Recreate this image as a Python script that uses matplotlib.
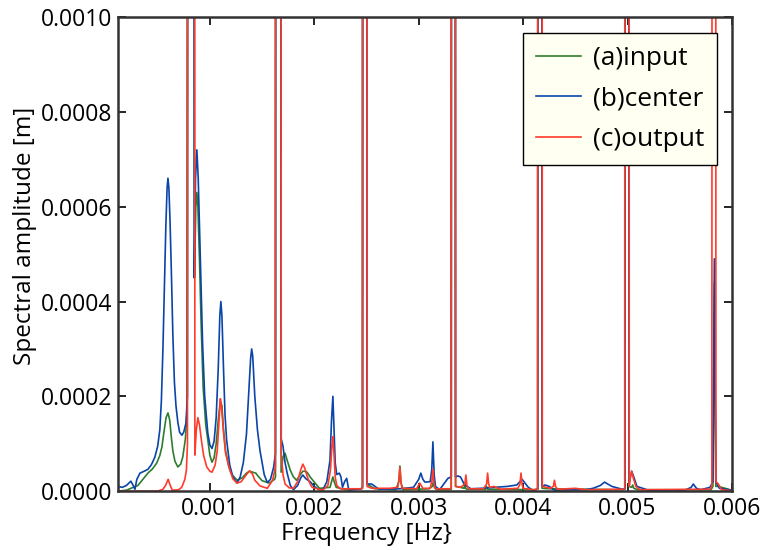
import numpy as np
import matplotlib
matplotlib.use('Agg')
from matplotlib import pyplot as plt

plt.rcParams['font.family'] = ['Open Sans', 'DejaVu Sans']

# frequency in mHz, amplitude in mm (converted to Hz / m when plotted)
# spikes that leave the plot are given a top value of 4.0 mm
f_input = [0.12, 0.20, 0.31, 0.406, 0.45, 0.49, 0.52, 0.54, 0.56, 0.58, 0.598,
           0.615, 0.63, 0.645, 0.665, 0.693, 0.72, 0.74, 0.765, 0.78,
           0.795, 0.845, 0.852, 0.865, 0.875, 0.885, 0.90, 0.915, 0.935, 0.96, 0.98,
           1.00, 1.02, 1.04, 1.06, 1.08, 1.10, 1.115, 1.13, 1.15, 1.18, 1.21,
           1.26, 1.31, 1.35, 1.38, 1.41, 1.44, 1.46, 1.50, 1.57, 1.62,
           1.628, 1.633, 1.678, 1.682, 1.70, 1.72, 1.74, 1.77, 1.80, 1.83, 1.86,
           1.89, 1.91, 1.93, 1.96, 2.00, 2.05, 2.15, 2.165, 2.178, 2.19, 2.21, 2.30,
           2.45, 2.462, 2.466, 2.502, 2.506, 2.52, 2.58, 2.78, 2.81, 2.82, 2.83, 2.85,
           3.10, 3.13, 3.14, 3.15, 3.17, 3.30, 3.312, 3.316, 3.348, 3.352, 3.40,
           3.435, 3.44, 3.45, 3.46, 3.64, 3.65, 3.66, 3.70, 4.10, 4.140, 4.144,
           4.178, 4.182, 4.25, 4.95, 4.975, 4.979, 5.011, 5.015, 5.04, 5.05, 5.06,
           5.10, 5.80, 5.818, 5.832, 5.846, 5.87, 6.00]
a_input = [0.000, 0.002, 0.012, 0.038, 0.047, 0.059, 0.075, 0.093, 0.125, 0.155, 0.165,
           0.150, 0.115, 0.085, 0.063, 0.051, 0.057, 0.072, 0.110, 0.160,
           4.0, 4.0, 0.45, 0.60, 0.630, 0.60, 0.49, 0.36, 0.22, 0.14, 0.108,
           0.075, 0.061, 0.070, 0.100, 0.150, 0.190, 0.180, 0.130, 0.085, 0.052, 0.035,
           0.023, 0.028, 0.038, 0.042, 0.040, 0.038, 0.032, 0.022, 0.017, 0.025,
           0.030, 4.0, 4.0, 0.040, 0.072, 0.080, 0.065, 0.044, 0.030, 0.023, 0.033,
           0.042, 0.042, 0.040, 0.030, 0.019, 0.006, 0.008, 0.020, 0.030, 0.020, 0.008, 0.003,
           0.005, 0.006, 4.0, 4.0, 0.015, 0.013, 0.005, 0.003, 0.020, 0.053, 0.018, 0.003,
           0.005, 0.010, 0.020, 0.008, 0.003, 0.003, 0.004, 4.0, 4.0, 0.010, 0.008,
           0.006, 0.017, 0.006, 0.004, 0.004, 0.010, 0.004, 0.004, 0.003, 0.004, 4.0,
           4.0, 0.006, 0.005, 0.003, 0.004, 4.0, 4.0, 0.010, 0.008, 0.013, 0.006,
           0.003, 0.003, 0.010, 0.440, 0.010, 0.010, 0.002]

f_center = [0.12, 0.16, 0.20, 0.243, 0.265, 0.282, 0.30, 0.33, 0.37, 0.406, 0.44,
            0.473, 0.50, 0.52, 0.535, 0.55, 0.565, 0.578, 0.59, 0.598, 0.607, 0.618,
            0.63, 0.645, 0.66, 0.675, 0.693, 0.71, 0.732, 0.75, 0.77, 0.785,
            0.792, 0.842, 0.850, 0.862, 0.875, 0.888, 0.90, 0.915, 0.93, 0.95, 0.98,
            1.00, 1.02, 1.04, 1.06, 1.08, 1.095, 1.105, 1.115, 1.13, 1.145, 1.16,
            1.19, 1.22, 1.26, 1.29, 1.32, 1.35, 1.375, 1.39, 1.40, 1.41, 1.43, 1.455,
            1.48, 1.52, 1.55, 1.58, 1.61, 1.628, 1.633, 1.678, 1.683, 1.70, 1.72,
            1.74, 1.77, 1.80, 1.84, 1.87, 1.89, 1.92, 1.96, 2.00, 2.04, 2.08, 2.12,
            2.15, 2.165, 2.178, 2.19, 2.20, 2.215, 2.24, 2.255, 2.27, 2.29, 2.31, 2.33,
            2.45, 2.462, 2.466, 2.500, 2.504, 2.55, 2.62, 2.82, 2.95, 3.00, 3.02,
            3.04, 3.06, 3.11, 3.125, 3.136, 3.148, 3.16, 3.20, 3.28, 3.312,
            3.316, 3.348, 3.352, 3.375, 3.40, 3.44, 3.50, 3.60, 3.85, 3.94, 3.99,
            4.05, 4.10, 4.140, 4.144, 4.178, 4.182, 4.21, 4.25, 4.30, 4.60, 4.67,
            4.74, 4.78, 4.85, 4.95, 4.975, 4.979, 5.011, 5.015, 5.04, 5.06, 5.09, 5.20,
            5.55, 5.61, 5.63, 5.66, 5.70, 5.79, 5.818, 5.832, 5.846, 5.88, 6.00]
a_center = [0.010, 0.008, 0.012, 0.021, 0.012, 0.004, 0.025, 0.038, 0.042, 0.046, 0.056,
            0.072, 0.095, 0.129, 0.190, 0.300, 0.440, 0.560, 0.640, 0.660, 0.640, 0.570,
            0.470, 0.330, 0.230, 0.180, 0.145, 0.124, 0.118, 0.125, 0.143, 0.200,
            4.0, 4.0, 0.450, 0.660, 0.720, 0.660, 0.560, 0.430, 0.310, 0.200, 0.122,
            0.097, 0.090, 0.105, 0.155, 0.260, 0.370, 0.400, 0.370, 0.260, 0.160, 0.108,
            0.055, 0.030, 0.017, 0.030, 0.060, 0.120, 0.220, 0.280, 0.300, 0.285, 0.200, 0.130,
            0.085, 0.035, 0.018, 0.025, 0.050, 0.080, 4.0, 4.0, 0.110, 0.095, 0.060,
            0.038, 0.012, 0.003, 0.012, 0.028, 0.034, 0.026, 0.020, 0.010, 0.004, 0.002, 0.020,
            0.065, 0.150, 0.200, 0.120, 0.060, 0.035, 0.038, 0.030, 0.008, 0.020, 0.027, 0.002,
            0.005, 0.010, 4.0, 4.0, 0.015, 0.015, 0.004, 0.005, 0.008, 0.025, 0.038,
            0.025, 0.019, 0.020, 0.045, 0.104, 0.035, 0.010, 0.003, 0.027, 0.030,
            4.0, 4.0, 0.030, 0.032, 0.030, 0.013, 0.005, 0.006, 0.010, 0.013, 0.025,
            0.008, 0.001, 0.005, 4.0, 4.0, 0.010, 0.013, 0.010, 0.002, 0.003, 0.006,
            0.012, 0.019, 0.010, 0.004, 0.005, 4.0, 4.0, 0.020, 0.042, 0.030, 0.010, 0.002,
            0.002, 0.008, 0.015, 0.006, 0.003, 0.008, 0.020, 0.490, 0.020, 0.006, 0.002]

f_output = [0.12, 0.50, 0.55, 0.575, 0.60, 0.62, 0.64, 0.70, 0.73, 0.76, 0.775, 0.785,
            0.79, 0.85, 0.856, 0.87, 0.885, 0.90, 0.92, 0.94, 0.97, 1.00, 1.02, 1.05,
            1.07, 1.09, 1.10, 1.11, 1.13, 1.15, 1.19, 1.22, 1.26, 1.30, 1.34, 1.38,
            1.41, 1.43, 1.48, 1.55, 1.60, 1.627, 1.632, 1.678, 1.683, 1.70, 1.72,
            1.76, 1.80, 1.84, 1.87, 1.89, 1.91, 1.93, 1.96, 1.98, 2.08, 2.13, 2.155,
            2.168, 2.178, 2.188, 2.20, 2.215, 2.25, 2.45, 2.460, 2.464, 2.502, 2.506,
            2.55, 2.72, 2.80, 2.81, 2.82, 2.83, 2.84, 2.98, 3.01, 3.04, 3.11, 3.126,
            3.136, 3.146, 3.16, 3.30, 3.310, 3.314, 3.350, 3.354, 3.40, 3.442, 3.452,
            3.462, 3.48, 3.62, 3.65, 3.66, 3.67, 3.68, 3.72, 3.78, 3.95, 3.97, 3.98,
            3.99, 4.00, 4.10, 4.138, 4.142, 4.180, 4.184, 4.26, 4.29, 4.30, 4.31, 4.33,
            4.50, 4.60, 4.95, 4.973, 4.977, 5.013, 5.017, 5.025, 5.04, 5.055, 5.08,
            5.12, 5.79, 5.808, 5.813, 5.842, 5.847, 5.87, 5.90, 6.00]
a_output = [0.000, 0.000, 0.004, 0.012, 0.025, 0.012, 0.002, 0.003, 0.008, 0.025, 0.045, 0.100,
            4.0, 4.0, 0.076, 0.130, 0.155, 0.140, 0.105, 0.075, 0.051, 0.042, 0.040, 0.055,
            0.085, 0.160, 0.195, 0.180, 0.125, 0.080, 0.045, 0.026, 0.017, 0.020, 0.032, 0.043,
            0.035, 0.023, 0.011, 0.006, 0.023, 0.050, 4.0, 4.0, 0.080, 0.035, 0.015,
            0.007, 0.006, 0.020, 0.045, 0.057, 0.048, 0.032, 0.015, 0.008, 0.002, 0.012, 0.045,
            0.095, 0.115, 0.080, 0.030, 0.012, 0.005, 0.005, 0.006, 4.0, 4.0, 0.010,
            0.006, 0.006, 0.008, 0.025, 0.050, 0.020, 0.006, 0.005, 0.017, 0.006, 0.006, 0.022,
            0.046, 0.015, 0.005, 0.005, 0.006, 4.0, 4.0, 0.010, 0.008, 0.015, 0.034,
            0.012, 0.005, 0.005, 0.015, 0.038, 0.015, 0.008, 0.010, 0.004, 0.006, 0.015, 0.038,
            0.014, 0.006, 0.003, 0.004, 4.0, 4.0, 0.010, 0.006, 0.010, 0.023, 0.010, 0.004,
            0.006, 0.003, 0.004, 0.005, 4.0, 4.0, 0.010, 0.025, 0.042, 0.028, 0.010,
            0.003, 0.004, 0.010, 4.0, 4.0, 0.020, 0.015, 0.003, 0.001]

labels = ['(a)input', '(b)center', '(c)output']
colors = ['#2e7d2e', '#0a44a8', '#ff3b2b']

fig = plt.figure(figsize=(7.64, 5.5), dpi=100)
ax = fig.add_axes([0.1545, 0.107, 0.8035, 0.862])

series = [(f_input, a_input), (f_center, a_center), (f_output, a_output)]
for (f, a), lab, c in zip(series, labels, colors):
    ax.plot(np.array(f) * 1e-3, np.array(a) * 1e-3, color=c, lw=1.2, label=lab)

ax.set_xlim(0.00012, 0.006)
ax.set_ylim(0, 0.001)
ax.set_xticks([0.001, 0.002, 0.003, 0.004, 0.005, 0.006])
ax.set_xticklabels(['0.001', '0.002', '0.003', '0.004', '0.005', '0.006'])
ax.set_yticks([0, 0.0002, 0.0004, 0.0006, 0.0008, 0.001])
ax.set_yticklabels(['0.0000', '0.0002', '0.0004', '0.0006', '0.0008', '0.0010'])
ax.tick_params(direction='in', top=True, right=True, length=6, width=1.2,
               labelsize=16.5, pad=4)
for s in ax.spines.values():
    s.set_linewidth(1.8)
    s.set_color('#333333')

ax.set_xlabel('Frequency [Hz}', fontsize=17.5)
ax.set_ylabel('Spectral amplitude [m]', fontsize=17.5)
ax.xaxis.set_label_coords(0.404, -0.066)
ax.yaxis.set_label_coords(-0.132, 0.538)

leg = ax.legend(loc='upper right', bbox_to_anchor=(0.976, 0.966), fontsize=19,
                fancybox=False, framealpha=1, facecolor='#fffff2', edgecolor='black',
                handlelength=1.7, handletextpad=0.45, labelspacing=0.58,
                borderpad=0.5, borderaxespad=0)
leg.get_frame().set_linewidth(1.0)

fig.savefig('out.png', dpi=100)
